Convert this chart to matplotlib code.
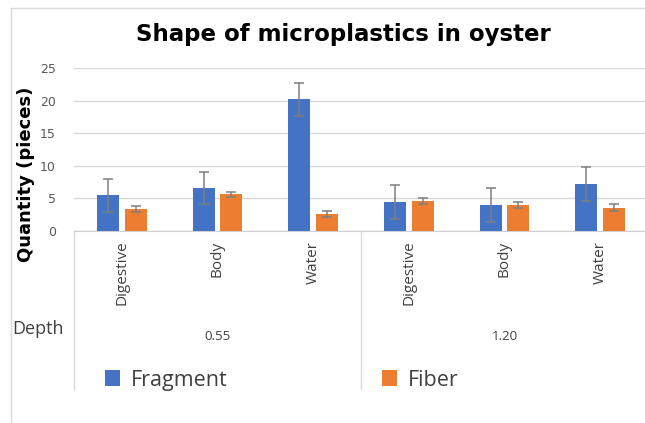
import numpy as np
import matplotlib
matplotlib.use('Agg')
import matplotlib.pyplot as plt
from matplotlib.lines import Line2D

# Data
categories = ['Digestive', 'Body', 'Water', 'Digestive', 'Body', 'Water']
depths = ['0.55', '1.20']
fragment = [5.45, 6.6, 20.2, 4.4, 4.0, 7.2]
fragment_err = [2.55, 2.5, 2.5, 2.6, 2.55, 2.6]
fiber = [3.4, 5.65, 2.65, 4.6, 4.0, 3.6]
fiber_err = [0.45, 0.4, 0.45, 0.45, 0.5, 0.5]
yticks = [0, 5, 10, 15, 20, 25]

blue = '#4472C4'
orange = '#ED7D31'
txt = '#404040'
W, H = 645, 423

fig = plt.figure(figsize=(6.45, 4.23), dpi=100)
ax = fig.add_axes([74 / W, 1 - 231 / H, (645 - 74) / W, (231 - 68) / H])

x = np.arange(len(categories))
bw = 0.23
off = 0.145
ekw = dict(ecolor='#7f7f7f', elinewidth=1.1, capsize=3.5, capthick=1.1)
b1 = ax.bar(x - off, fragment, bw, yerr=fragment_err, color=blue, error_kw=ekw, zorder=3)
b2 = ax.bar(x + off, fiber, bw, yerr=fiber_err, color=orange, error_kw=ekw, zorder=3)

ax.set_xlim(-0.5, 5.47)
ax.set_ylim(0, 25)
ax.set_yticks(yticks)
ax.set_xticks(x)
ax.set_xticklabels(categories, rotation=90, fontsize=11, color=txt, family='Open Sans')
ax.tick_params(axis='x', length=0, pad=7)
ax.tick_params(axis='y', length=0, pad=13, labelsize=9, labelcolor='#595959')
ax.grid(axis='y', color='#d9d9d9', linewidth=1, zorder=0)
for s in ['top', 'right', 'left']:
    ax.spines[s].set_visible(False)
ax.spines['bottom'].set_color('#d0d0d0')

# group separators and depth labels
tr = ax.get_xaxis_transform()
ybot = -(389 - 231) / (231 - 68)
for xv in [-0.5, 2.5]:
    ax.add_line(Line2D([xv, xv], [0, ybot], transform=tr, color='#d9d9d9', lw=1, clip_on=False))
for i, d in enumerate(depths):
    ax.text(1 + 3 * i, -(336 - 231) / (231 - 68), d, transform=tr, ha='center', va='center',
            fontsize=9.5, color=txt, family='Open Sans')
fig.text(12 / W, 1 - 329 / H, 'Depth', fontsize=13, color=txt, family='Open Sans', va='center')

ax.set_ylabel('Quantity (pieces)', fontsize=13, fontweight='bold', family='DejaVu Sans')
ax.yaxis.set_label_coords(-(74 - 35) / (645 - 74), 0.345)

fig.text(343 / W, 1 - 35 / H, 'Shape of microplastics in oyster', ha='center', va='center',
         fontsize=16.5, fontweight='bold', family='DejaVu Sans')

# legend
fig.legend([b1, b2], ['Fragment', 'Fiber'], ncol=2, loc='center left',
           bbox_to_anchor=(86 / W, 1 - 380 / H), frameon=False, prop={'family': 'Open Sans', 'size': 15.5},
           labelcolor=txt, handlelength=0.7, handleheight=0.7, handletextpad=0.5, columnspacing=7.15)

# outer frame
fig.add_artist(Line2D([11 / W, 11 / W], [0, 1 - 8 / H], color='#d9d9d9', lw=1))
fig.add_artist(Line2D([11 / W, 1], [1 - 8 / H, 1 - 8 / H], color='#d9d9d9', lw=1))

fig.savefig('out.png', dpi=100)
